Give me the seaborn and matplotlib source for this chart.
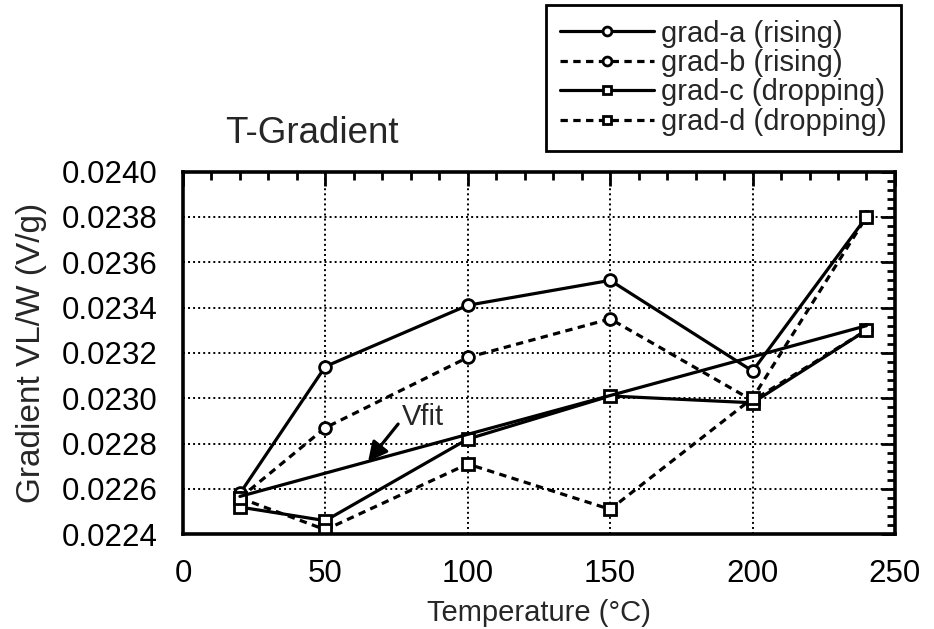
import numpy as np
import matplotlib
matplotlib.use("Agg")
import matplotlib.pyplot as plt
import seaborn as sns
from matplotlib.ticker import MultipleLocator, FormatStrFormatter

# Gradient VL/W (V/g) measured at each temperature (°C)
temps = [20, 50, 100, 150, 200, 240]
grad_a = [0.02258, 0.02314, 0.02341, 0.02352, 0.02312, 0.02380]
grad_b = [0.02256, 0.02287, 0.02318, 0.02335, 0.02299, 0.02330]
grad_c = [0.02252, 0.02246, 0.02282, 0.02301, 0.02298, 0.02330]
grad_d = [0.02256, 0.02242, 0.02271, 0.02251, 0.02300, 0.02380]

# Linear fit through all runs (Vfit)
fit_temps = [20, 240]
fit_vals = [0.022567, 0.02332]

series_names = ["grad-a (rising)", "grad-b (rising)",
                "grad-c (dropping)", "grad-d (dropping)"]
x_ticks = [0, 50, 100, 150, 200, 250]
y_ticks = [0.0224, 0.0226, 0.0228, 0.0230, 0.0232, 0.0234, 0.0236, 0.0238, 0.0240]

sns.set_style("white")
plt.rcParams["font.family"] = ["Liberation Sans", "DejaVu Sans"]

fig = plt.figure(figsize=(9.34, 6.29), dpi=100)
ax = fig.add_axes([0.1959, 0.1506, 0.7623, 0.5767])

solid = "-"
dashed = (0, (2.3, 1.7))
styles = [(solid, "o"), (dashed, "o"), (solid, "s"), (dashed, "s")]

for name, vals, (ls, mk) in zip(series_names, [grad_a, grad_b, grad_c, grad_d], styles):
    sns.lineplot(x=temps, y=vals, ax=ax, color="black", linestyle=ls,
                 linewidth=2.3, marker=mk, markersize=8.5,
                 markerfacecolor="white", markeredgecolor="black",
                 markeredgewidth=2, errorbar=None, label=name, legend=False)

sns.lineplot(x=fit_temps, y=fit_vals, ax=ax, color="black", linestyle="-",
             linewidth=2.3, errorbar=None, legend=False)

# Arrow pointing at the fit line
arrow_x = 65
arrow_y = float(np.interp(arrow_x, fit_temps, fit_vals))
ax.annotate("Vfit", xy=(arrow_x, arrow_y), xytext=(77, 0.02288),
            fontsize=21, ha="left", va="baseline",
            arrowprops=dict(arrowstyle="-|>,head_length=0.55,head_width=0.28",
                            color="black", lw=2.3, relpos=(0, 0.45),
                            shrinkA=1, shrinkB=0))

ax.set_xlim(0, 250)
ax.set_ylim(0.0224, 0.0240)
ax.set_xticks(x_ticks)
ax.set_yticks(y_ticks)
ax.xaxis.set_minor_locator(MultipleLocator(10))
ax.yaxis.set_minor_locator(MultipleLocator(0.00004))
ax.yaxis.set_major_formatter(FormatStrFormatter("%.4f"))

ax.tick_params(which="both", direction="in", top=True, right=True,
               width=2, color="black", labelsize=22.5, labelcolor="black")
ax.tick_params(which="major", length=10)
ax.tick_params(which="minor", length=6)
ax.tick_params(axis="x", which="major", pad=18)
ax.tick_params(axis="y", which="major", pad=18)

ax.set_axisbelow(True)
ax.grid(True, which="major", color="black", linestyle=(0, (1, 1.6)), linewidth=1.4)
for sp in ax.spines.values():
    sp.set_color("black")
    sp.set_linewidth(2.6)

ax.set_xlabel("Temperature (°C)", fontsize=21, labelpad=7)
ax.set_ylabel("Gradient VL/W (V/g)", fontsize=24, labelpad=11)

fig.text(225 / 934, 1 - 143 / 629, "T-Gradient", fontsize=26.5,
         ha="left", va="baseline")

leg = ax.legend(loc="upper right", bbox_to_anchor=(901 / 934, 1 - 5 / 629),
                bbox_transform=fig.transFigure, frameon=True, fancybox=False,
                edgecolor="black", framealpha=1, fontsize=21, handlelength=3.2,
                handletextpad=0.25, labelspacing=0.05, borderpad=0.5,
                borderaxespad=0, numpoints=1, markerscale=0.75)
leg.get_frame().set_linewidth(2)

fig.savefig("out.png", dpi=100)
